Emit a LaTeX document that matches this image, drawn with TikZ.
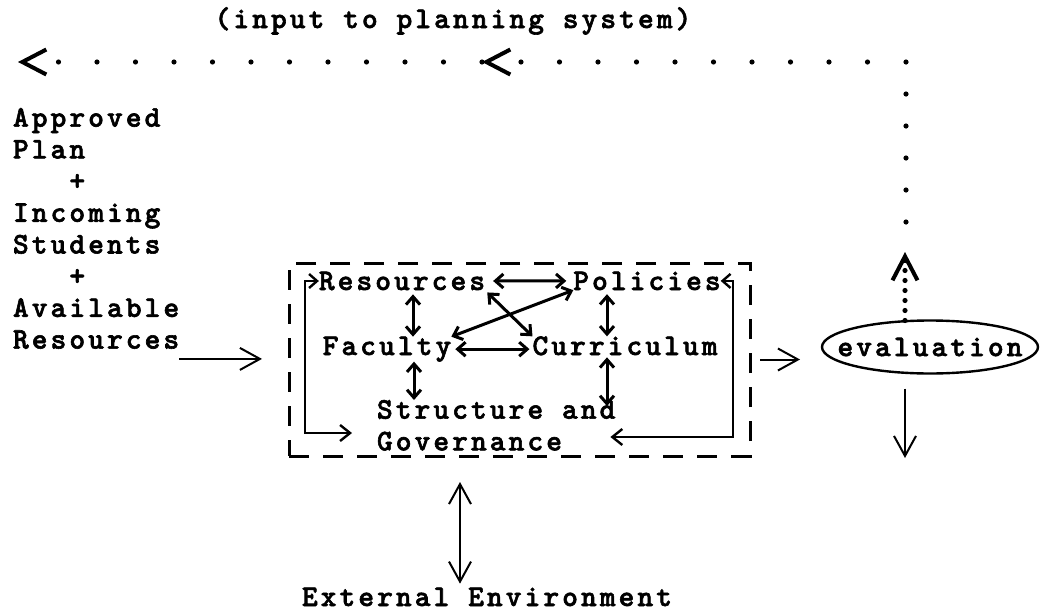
\documentclass[tikz,border=0pt]{standalone}
\usepackage{fontspec}
\newfontfamily\typewriter{lmmonolt10-bold.otf}[LetterSpace=10.2, FakeBold=2]
\usepackage{tikz}
\usetikzlibrary{arrows.meta, positioning, shapes.geometric}
\tikzset{%
	plan text/.style={
		font=\fontsize{15pt}{15.85pt}\typewriter,
		inner sep=0pt,
		outer sep=0pt
	},
	two way/.style={
		{Straight Barb[length=4pt,width=7pt]}-{Straight Barb[length=4pt,width=7pt]},
		line width=1.5pt
	},
	loop back/.style={
		{Straight Barb[length=4pt,width=7pt]}-{Straight Barb[length=5pt,width=8pt]},
		line width=1.2pt
	},
	feedback/.style={
		line width=2.6pt,
		line cap=round,
		dash pattern=on 0pt off 19.25pt,
		-{Straight Barb[length=12pt,width=12.5pt,line width=2pt]}
	},
}

\begin{document}
\begin{tikzpicture}[x=0.5pt, y=-0.5pt, >={Straight Barb[length=10pt,width=11pt]}]
			\useasboundingbox (0,0) rectangle (1041,611);
			
			\node[plan text, anchor=base] (title) at (453,28) {(input to planning system)};
			\node[plan text, anchor=north west, align=left] (inputs) at (13,108)
				{Approved\\Plan\\\ \ \ +\\Incoming\\Students\\\ \ \ +\\Available\\Resources};
			
			% the system box
			\node[draw, dash pattern=on 10pt off 7pt, line width=1.5pt, minimum width=230.5pt,
				minimum height=96.5pt, inner sep=0pt, outer sep=0pt] (system) at (519.5,359.5) {};
			\node[plan text, anchor=base] (resources) at (402,290) {Resources};
			\node[plan text, anchor=base] (policies) at (647,290) {Policies};
			\node[plan text, anchor=base] (faculty) at (387,355) {Faculty};
			\node[plan text, anchor=base] (curriculum) at (625,355) {Curriculum};
			\node[plan text, anchor=north west, align=left] (structure) at (377,400) {Structure and\\Governance};
			
			\node[plan text, draw, ellipse, line width=1.2pt, inner xsep=-10pt, inner ysep=0pt,
				minimum width=108pt, minimum height=26.5pt] (eval) at (930,347) {evaluation};
			\node[plan text, anchor=base] (external) at (487,606) {External Environment};
			
			\coordinate (loopL) at (305,433);
			\coordinate (loopR) at (733,437);
			\coordinate (evalout) at (905,458);
			\coordinate (fbtip) at (905,252);
			\coordinate (fblow) at (906,222);
			\coordinate (fbcorner) at (906,62);
			\coordinate (fbmid) at (482,62);
			\coordinate (fbend) at (18,62);
			
			% links inside the box
			\draw[two way, shorten <=4pt, shorten >=3.5pt] (resources.east) -- (policies.west);
			\draw[two way, shorten <=2pt, shorten >=1.5pt] (faculty.east) -- (faculty.east -| curriculum.west);
			\draw[two way, shorten <=2pt] ([xshift=5.5pt]resources.south) -- ([xshift=5.5pt]resources.south |- faculty.north);
			\draw[two way, shorten <=2pt] ([xshift=-20pt]policies.south) -- ([xshift=-20pt]policies.south |- curriculum.north);
			\draw[two way] ([xshift=13.5pt]faculty.south) -- ([xshift=13.5pt]faculty.south |- structure.north);
			\draw[two way, shorten <=1pt, shorten >=-3pt] ([xshift=-9pt]curriculum.south) -- ([xshift=-9pt]curriculum.south |- structure.north);
			\draw[two way, shorten <=1.5pt] (resources.south east) -- (curriculum.north west);
			\draw[two way] (faculty.north east) -- (policies.south west);
			\draw[loop back, shorten >=12.5pt] (resources.west) -| (loopL) -- (loopL -| structure.west);
			\draw[loop back, shorten >=-2.5pt] (policies.east) -| (loopR) -- (loopR -| structure.east);
			
			% in and out
			\draw[->, line width=1pt, shorten >=13.5pt] ([yshift=-5pt]inputs.south east) -- ([yshift=-5pt]inputs.south east -| system.west);
			\draw[->, line width=1pt, shorten <=5pt, shorten >=11pt] (system.east) -- (system.east -| eval.west);
			\draw[->, line width=1pt, shorten <=7.5pt] (eval.south -| evalout) -- (evalout);
			\draw[<->, line width=1pt, shorten <=2pt, shorten >=13pt] ([xshift=-13.5pt]external.north) -- ([xshift=-13.5pt]external.north |- system.south);
			
			% feedback to planning
			\draw[feedback, dash pattern=on 0pt off 5pt] (eval.north -| fbtip) -- (fbtip);
			\draw[feedback, dash pattern=on 0pt off 16pt, -] (fblow) -- (fbcorner);
			\draw[feedback] (fbcorner) -- (fbmid);
			\draw[feedback] (fbmid) -- (fbend);
			
\end{tikzpicture}
\end{document}
